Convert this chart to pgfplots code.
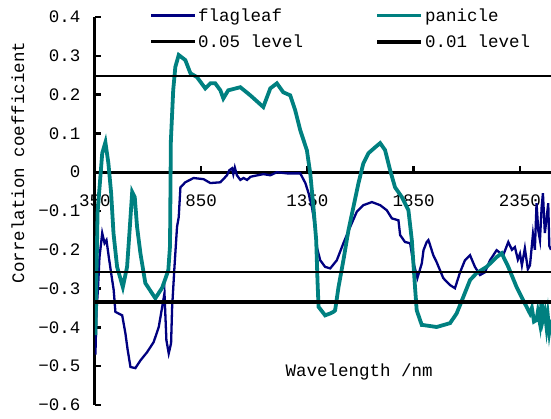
\documentclass[border=0pt]{standalone}
\usepackage{pgfplots}
\pgfplotsset{compat=1.18}
\usepackage{fontspec}
\setmainfont{Liberation Mono}
\definecolor{flagc}{RGB}{0,0,128}
\definecolor{panc}{RGB}{0,128,128}
\begin{document}
\begin{tikzpicture}[font=\fontsize{17.5}{20}\selectfont]
\begin{axis}[
  at={(0,0)}, anchor=south west,
  scale only axis, width=456pt, height=388pt,
  xmin=350, xmax=2496, ymin=-0.6, ymax=0.4,
  axis x line=middle, axis y line=left,
  axis line style={-, line width=3pt},
  hide obscured x ticks=false,
  hide obscured y ticks=false,
  xtick={350,850,1350,1850,2350},
  xticklabels={350,850,1350,1850,2350},
  ytick={-0.6,-0.5,-0.4,-0.3,-0.2,-0.1,0,0.1,0.2,0.3,0.4},
  yticklabels={−0.6,−0.5,−0.4,−0.3,−0.2,−0.1,0,0.1,0.2,0.3,0.4},
  tick align=inside,
  major tick length=6pt,
  tick style={line width=2.5pt, black},
  xticklabel style={yshift=-19pt, fill=none},
  yticklabel style={xshift=-11pt},
  xlabel={Wavelength /nm},
  ylabel={Correlation coefficient},
  every axis x label/.style={at={(axis description cs:0.579,0.085)}, anchor=center},
  every axis y label/.style={at={(axis description cs:-0.169,0.625)}, rotate=90, anchor=center},
  legend columns=2,
  legend cell align=left,
  legend style={at={(axis description cs:0.12,1.028)}, anchor=north west, draw=none, fill=none,
    inner sep=0pt, row sep=8pt,
    /tikz/every even column/.append style={column sep=70pt}},
  legend image code/.code={\draw[#1] (0pt,0pt) -- (44pt,0pt);},
  clip=true,
]
\addplot[color=flagc, line width=2.3pt] coordinates {
(352,-0.47) (357,-0.36) (364,-0.30) (371,-0.22) (384,-0.157) (395,-0.183) (404,-0.175)
(415,-0.219) (426,-0.26) (438,-0.304) (446,-0.36) (478,-0.369) (493,-0.415) (504,-0.459)
(517,-0.502) (540,-0.505) (564,-0.485) (595,-0.464) (626,-0.438) (650,-0.399) (666,-0.348)
(677,-0.312) (686,-0.433) (697,-0.467) (708,-0.441) (713,-0.348) (724,-0.244) (736,-0.141)
(744,-0.116) (752,-0.039) (775,-0.026) (814,-0.015) (861,-0.018) (893,-0.028) (940,-0.026)
(971,-0.008) (982,0.005) (995,0.01) (1001,-0.005) (1008,0.012) (1018,-0.008) (1034,-0.02)
(1049,-0.015) (1066,-0.02) (1081,-0.012) (1096,-0.01) (1143,-0.005) (1175,-0.008) (1206,0)
(1253,-0.003) (1316,-0.003) (1340,-0.028) (1355,-0.054) (1371,-0.09) (1386,-0.141)
(1394,-0.193) (1410,-0.227) (1433,-0.244) (1457,-0.248) (1488,-0.227) (1519,-0.183)
(1551,-0.141) (1582,-0.102) (1613,-0.085) (1653,-0.077) (1692,-0.085) (1723,-0.098)
(1747,-0.119) (1778,-0.124) (1786,-0.162) (1809,-0.18) (1833,-0.183) (1846,-0.227)
(1867,-0.273) (1888,-0.235) (1896,-0.201) (1911,-0.18) (1919,-0.175) (1927,-0.188)
(1942,-0.214) (1958,-0.232) (1989,-0.273) (2021,-0.291) (2044,-0.299) (2068,-0.258)
(2091,-0.227) (2115,-0.214) (2138,-0.244) (2162,-0.265) (2185,-0.258) (2209,-0.227)
(2240,-0.201) (2271,-0.214) (2295,-0.18) (2312,-0.2) (2326,-0.193) (2340,-0.225)
(2350,-0.21) (2359,-0.24) (2373,-0.196) (2387,-0.25) (2397,-0.24) (2411,-0.16) (2420,-0.2)
(2428,-0.08) (2436,-0.15) (2444,-0.175) (2452,-0.09) (2458,-0.054) (2467,-0.157)
(2475,-0.12) (2483,-0.08) (2488,-0.19) (2496,-0.2)
};
\addlegendentry{flagleaf}
\addplot[color=panc, line width=3.8pt] coordinates {
(352,-0.42) (362,-0.105) (384,0.049) (399,0.077) (413,0.023) (426,-0.054) (437,-0.157)
(454,-0.244) (481,-0.296) (501,-0.244) (514,-0.141) (525,-0.051) (537,-0.064) (548,-0.141)
(564,-0.21) (587,-0.286) (634,-0.325) (666,-0.298) (695,-0.253) (703,-0.19) (707,0.08)
(718,0.211) (728,0.271) (744,0.302) (775,0.289) (799,0.255) (830,0.245) (869,0.216)
(893,0.229) (916,0.229) (940,0.211) (954,0.19) (977,0.211) (1034,0.219) (1081,0.198)
(1142,0.168) (1175,0.216) (1206,0.229) (1236,0.206) (1269,0.198) (1292,0.16) (1316,0.108)
(1347,0.057) (1363,-0.003) (1378,-0.09) (1391,-0.175) (1397,-0.278) (1402,-0.347)
(1433,-0.369) (1457,-0.364) (1472,-0.36) (1480,-0.356) (1496,-0.296) (1519,-0.227)
(1543,-0.149) (1566,-0.09) (1590,-0.028) (1613,0.023) (1637,0.049) (1668,0.064)
(1692,0.075) (1715,0.057) (1739,0.005) (1762,-0.039) (1794,-0.064) (1825,-0.098)
(1841,-0.175) (1856,-0.296) (1864,-0.356) (1888,-0.394) (1895,-0.394) (1958,-0.399)
(2021,-0.389) (2052,-0.364) (2083,-0.322) (2115,-0.278) (2146,-0.26) (2193,-0.244)
(2240,-0.219) (2264,-0.209) (2295,-0.244) (2334,-0.296) (2365,-0.33) (2397,-0.364)
(2406,-0.35) (2416,-0.385) (2428,-0.381) (2434,-0.36) (2444,-0.39) (2452,-0.33)
(2458,-0.38) (2467,-0.36) (2475,-0.399) (2481,-0.37) (2488,-0.41) (2496,-0.38)
};
\addlegendentry{panicle}
\addplot[black, line width=2.2pt] coordinates {(350,0.247) (2496,0.247)};
\addlegendentry{0.05 level}
\addplot[black, line width=4pt] coordinates {(350,-0.335) (2496,-0.335)};
\addlegendentry{0.01 level}
\addplot[black, line width=2.2pt, forget plot] coordinates {(350,-0.257) (2496,-0.257)};
\end{axis}
\pgfresetboundingbox
\useasboundingbox (-95pt,-14pt) rectangle (456pt,405pt);
\end{tikzpicture}
\end{document}
